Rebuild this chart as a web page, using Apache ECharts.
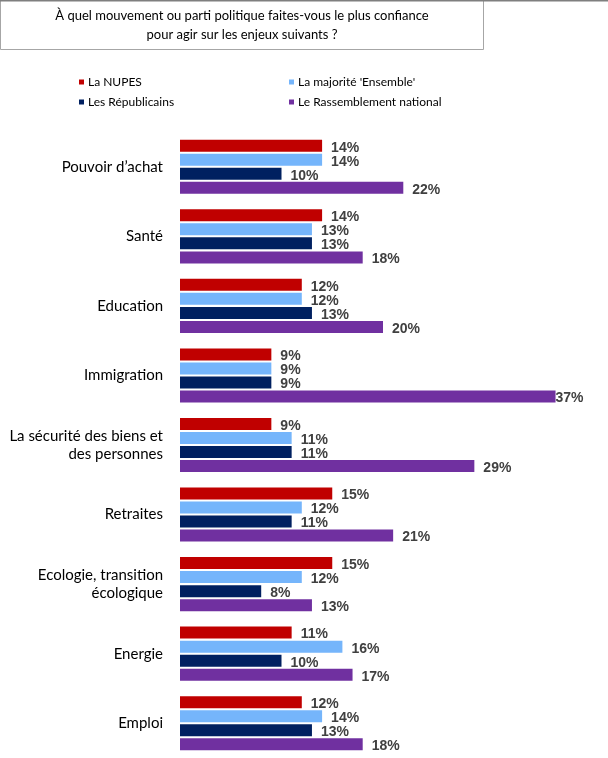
<!DOCTYPE html>
<html>
<head>
<meta charset="utf-8">
<script src="https://cdn.jsdelivr.net/npm/echarts@6/dist/echarts.min.js"></script>
<style>
  html, body { margin: 0; padding: 0; background: #fff; }
  #chart { width: 608px; height: 758px; }
</style>
</head>
<body>
<div id="chart"></div>
<script>
var categories = ['Pouvoir d’achat', 'Santé', 'Education', 'Immigration',
    'La sécurité des biens et\ndes personnes', 'Retraites',
    'Ecologie, transition\nécologique', 'Energie', 'Emploi'];
var seriesNames = ['La NUPES', 'La majorité \'Ensemble\'', 'Les Républicains', 'Le Rassemblement national'];
var nupes = [14, 14, 12, 9, 9, 15, 15, 11, 12];
var ensemble = [14, 13, 12, 9, 11, 12, 12, 16, 14];
var republicains = [10, 13, 13, 9, 11, 11, 8, 10, 13];
var rn = [22, 18, 20, 37, 29, 21, 13, 17, 18];
var colors = ['#C00000', '#75B5FB', '#002060', '#7030A0'];

var textFont = 'Lato';

function createBarChart(selectorId) {
    var myChart = echarts.init(document.getElementById(selectorId));
    var allData = [nupes, ensemble, republicains, rn];
    var series = allData.map(function (values, i) {
        return {
            name: seriesNames[i],
            type: 'bar',
            // la barre la plus longue touche le bord : son label est collé à la barre
            data: values.map(function (v) {
                return v >= 35 ? { value: v, label: { distance: 0 } } : v;
            }),
            barWidth: 12,
            barGap: '17%',
            itemStyle: { color: colors[i] },
            label: {
                show: true,
                position: 'right',
                distance: 9,
                offset: [0, 2],
                formatter: '{c}%',
                color: '#404040',
                fontFamily: 'Liberation Sans',
                fontWeight: 'bold',
                fontSize: 14
            }
        };
    });
    var legendText = { fontFamily: textFont, fontSize: 12, color: '#000', padding: [0, 0, 0, -1] };
    var option = {
        animation: false,
        graphic: [{
            type: 'rect',
            shape: { x: 0.5, y: 0.5, width: 483, height: 49 },
            style: { fill: '#fff', stroke: '#a6a6a6', lineWidth: 1 }
        }, {
            type: 'line',
            shape: { x1: 0, y1: 0.5, x2: 608, y2: 0.5 },
            style: { stroke: '#7f7f7f', lineWidth: 2 }
        }, {
            type: 'text',
            x: 242,
            y: 6,
            style: {
                text: 'À quel mouvement ou parti politique faites-vous le plus confiance\npour agir sur les enjeux suivants ?',
                textAlign: 'center',
                fontFamily: textFont,
                fontSize: 13,
                lineHeight: 19,
                fill: '#000'
            }
        }],
        legend: [{
            data: [seriesNames[0], seriesNames[2]],
            orient: 'vertical',
            left: 74,
            top: 71,
            icon: 'rect',
            itemWidth: 5,
            itemHeight: 5,
            itemGap: 8,
            textStyle: legendText
        }, {
            data: [seriesNames[1], seriesNames[3]],
            orient: 'vertical',
            left: 284,
            top: 71,
            icon: 'rect',
            itemWidth: 5,
            itemHeight: 5,
            itemGap: 8,
            textStyle: legendText
        }],
        grid: {
            left: 180,
            top: 132,
            width: 406,
            height: 632,
            containLabel: false
        },
        xAxis: {
            type: 'value',
            min: 0,
            max: 40,
            show: false
        },
        yAxis: {
            type: 'category',
            inverse: true,
            data: categories,
            axisLine: { show: false },
            axisTick: { show: false },
            axisLabel: {
                margin: 17,
                fontFamily: textFont,
                fontSize: 15,
                lineHeight: 18,
                color: '#000'
            }
        },
        series: series
    };
    myChart.setOption(option);
    window.addEventListener('resize', function () {
        myChart.resize();
    });
}
createBarChart('chart');
</script>
</body>
</html>
